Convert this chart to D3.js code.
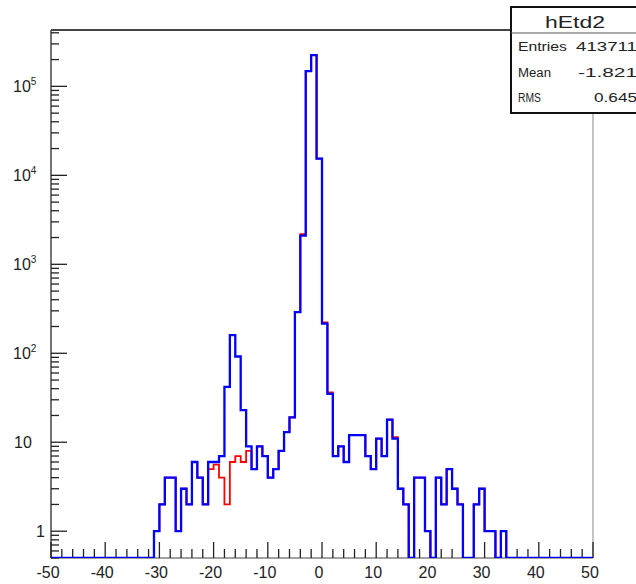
<!DOCTYPE html>
<html>
<head>
<meta charset="utf-8">
<script src="https://d3js.org/d3.v7.min.js"></script>
<style>
  body { margin: 0; background: #fff; }
  text { font-family: "Liberation Sans", Arial, sans-serif; fill: #222; }
</style>
</head>
<body>
<svg id="plot" width="636" height="584"></svg>
<script>
// histogram hEtd2 : 100 bins of width 1 from -50 to 50 (lower edges)
const binLow = d3.range(-50, 50, 1);

// blue (front) histogram, one count per bin
const blueCounts = [
  0,0,0,0,0,0,0,0,0,0, 0,0,0,0,0,0,0,0,0,          // -50 .. -32
  1,2,4,4,1,3,2,6,4,2,                              // -31 .. -22
  6,6,7,42,160,92,23,9,5,9,                         // -21 .. -12
  7,4,5,8,13,19,290,2100,148000,224000,             // -11 .. -2
  15400,                                            // -1
  215,35,7,9,6,12,12,12,7,5,                        // 0 .. 9
  11,7,18,11,3,2,0,4,4,1,                           // 10 .. 19
  0,4,2,5,3,2,0,0,2,3,                              // 20 .. 29
  1,1,0,1,                                          // 30 .. 33
  0,0,0,0,0,0,0,0,0,0,0,0,0,0,0,0                   // 34 .. 49
];

// red (behind) histogram, differs only where it shows
const redCounts = [
  0,0,0,0,0,0,0,0,0,0, 0,0,0,0,0,0,0,0,0,
  1,2,4,4,1,3,2,6,4,2,
  5,5.6,4,2,6,7,6,8,5,9,
  7,4,5,8,13,19,290,2180,148000,224000,
  15400,
  223,36.3,7,9,6,12,12,12,7,5,
  11,7,18,11.4,3,2,0,4,4,1,
  0,4,2,5,3,2,0,0,2,3,
  1,1,0,1,
  0,0,0,0,0,0,0,0,0,0,0,0,0,0,0,0
];

const xMajor = [-50,-40,-30,-20,-10,0,10,20,30,40,50];
const xMinor = d3.range(-50, 51, 2);
const yDecades = [1, 10, 100, 1000, 10000, 100000];
const yBase = ["1", "10", "10", "10", "10", "10"];
const yExp = ["", "", "2", "3", "4", "5"];

const statTitle = "hEtd2";
const statNames = ["Entries", "Mean", "RMS"];
const statValues = ["413711", "-1.821", "0.645"];

const svg = d3.select("#plot");
const L = 51, R = 593, T = 30, B = 558;

const x = d3.scaleLinear().domain([-50, 50]).range([L, R]);
const y = d3.scaleLog().domain([0.5, 4.3e5]).range([B, T]);

// frame
svg.append("line").attr("x1", L).attr("x2", R).attr("y1", T).attr("y2", T)
  .attr("stroke", "#444").attr("stroke-width", 2);
svg.append("line").attr("x1", R).attr("x2", R).attr("y1", T).attr("y2", B)
  .attr("stroke", "#888").attr("stroke-width", 1);
svg.append("line").attr("x1", L).attr("x2", L).attr("y1", T).attr("y2", B)
  .attr("stroke", "#444").attr("stroke-width", 1.5);
svg.append("line").attr("x1", L).attr("x2", R).attr("y1", B).attr("y2", B)
  .attr("stroke", "#444").attr("stroke-width", 1);

// x ticks (pointing inward)
svg.append("g").selectAll("line").data(xMinor).join("line")
  .attr("x1", d => x(d)).attr("x2", d => x(d))
  .attr("y1", B).attr("y2", d => xMajor.includes(d) ? B - 16 : B - 9)
  .attr("stroke", "#222").attr("stroke-width", 1.3);

svg.append("g").selectAll("text").data(xMajor).join("text")
  .attr("x", d => x(d) - 3).attr("y", 578)
  .attr("text-anchor", "middle").attr("font-size", 16)
  .text(d => d);

// y ticks
const yMinor = [];
[0.1, 1, 10, 100, 1000, 10000, 100000].forEach(dec => {
  for (let k = 2; k <= 9; k++) {
    const v = k * dec;
    if (v >= 0.5 && v <= 4.3e5) yMinor.push(v);
  }
});
svg.append("g").selectAll("line").data(yMinor).join("line")
  .attr("x1", L).attr("x2", L + 8)
  .attr("y1", d => y(d)).attr("y2", d => y(d))
  .attr("stroke", "#222").attr("stroke-width", 1.3);
svg.append("g").selectAll("line").data(yDecades).join("line")
  .attr("x1", L).attr("x2", L + 16)
  .attr("y1", d => y(d)).attr("y2", d => y(d))
  .attr("stroke", "#222").attr("stroke-width", 1.3);

const yl = svg.append("g").selectAll("text").data(yDecades).join("text")
  .attr("x", (d, i) => yExp[i] ? 13 : (yBase[i] === "1" ? 36 : 14))
  .attr("y", d => y(d) + 6)
  .attr("font-size", 16);
yl.append("tspan").text((d, i) => yBase[i]);
yl.append("tspan").attr("dy", -7).attr("font-size", 10).text((d, i) => yExp[i]);

// histograms
svg.append("clipPath").attr("id", "frameClip")
  .append("rect").attr("x", L).attr("y", T).attr("width", R - L).attr("height", B - T);

const step = d3.line()
  .x(d => x(d[0]))
  .y(d => d[1] > 0 ? y(d[1]) : B)
  .curve(d3.curveStepAfter);

function pts(counts) {
  const p = binLow.map((b, i) => [b, counts[i]]);
  p.push([50, counts[counts.length - 1]]);
  return p;
}

const hg = svg.append("g").attr("clip-path", "url(#frameClip)");
hg.append("path").attr("d", step(pts(redCounts)))
  .attr("fill", "none").attr("stroke", "#ff0000").attr("stroke-width", 1.8);
hg.append("path").attr("d", step(pts(blueCounts)))
  .attr("fill", "none").attr("stroke", "#0000ff").attr("stroke-width", 2.3);

// stats box
const sb = svg.append("g");
sb.append("rect").attr("x", 511).attr("y", 7).attr("width", 140).attr("height", 106)
  .attr("fill", "#fff").attr("stroke", "#111").attr("stroke-width", 2);
sb.append("line").attr("x1", 511).attr("x2", 636).attr("y1", 33).attr("y2", 33)
  .attr("stroke", "#555").attr("stroke-width", 1);
sb.append("text").attr("x", 545).attr("y", 28).attr("font-size", 17)
  .attr("textLength", 60).attr("lengthAdjust", "spacingAndGlyphs").text(statTitle);

const nameW = [49, 33, 23];
const valX = [576, 578, 594];
const valW = [61, 59, 43];
const rowY = [51, 77, 102];
statNames.forEach((n, i) => {
  sb.append("text").attr("x", 518).attr("y", rowY[i]).attr("font-size", 12)
    .attr("textLength", nameW[i]).attr("lengthAdjust", "spacingAndGlyphs").text(n);
  sb.append("text").attr("x", valX[i]).attr("y", rowY[i]).attr("font-size", 12)
    .attr("textLength", valW[i]).attr("lengthAdjust", "spacingAndGlyphs").text(statValues[i]);
});
</script>
</body>
</html>
